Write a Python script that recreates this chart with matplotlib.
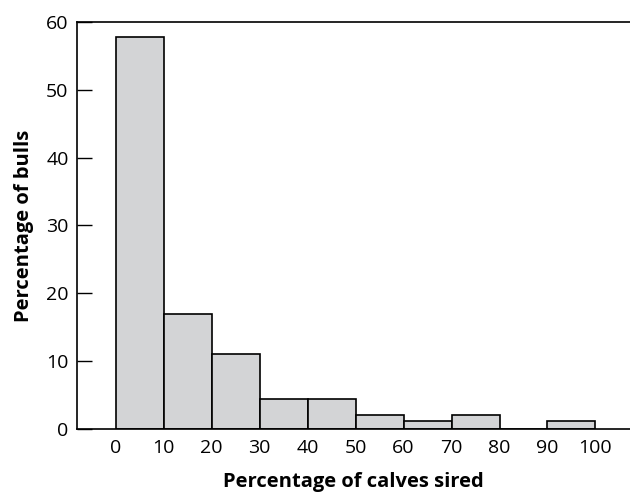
import matplotlib.pyplot as plt

# bin left edges and heights (percentage of bulls)
bin_left = [0, 10, 20, 30, 40, 50, 60, 70, 80, 90]
pct_bulls = [57.8, 17.0, 11.0, 4.4, 4.4, 2.1, 1.2, 2.1, 0, 1.2]
xtick_vals = [0, 10, 20, 30, 40, 50, 60, 70, 80, 90, 100]
ytick_vals = [0, 10, 20, 30, 40, 50, 60]

plt.rcParams['font.family'] = ['Open Sans', 'DejaVu Sans']

fig = plt.figure(figsize=(6.3, 4.94), dpi=100)
ax = fig.add_axes([0.122, 0.1316, 0.878, 0.8239])

ax.bar(bin_left, pct_bulls, width=10, align='edge', color='#d3d4d6',
       edgecolor='black', linewidth=1.2, zorder=2)

ax.set_xlim(-8.1, 107.2)
ax.set_ylim(0, 60)
ax.set_xticks(xtick_vals)
ax.set_yticks(ytick_vals)
ax.tick_params(axis='x', length=0, pad=7, labelsize=14)
ax.tick_params(axis='y', direction='in', length=11, width=1, pad=6, labelsize=14)

ax.spines['right'].set_visible(False)
for s in ['top', 'left', 'bottom']:
    ax.spines[s].set_linewidth(1.2)

ax.set_xlabel('Percentage of calves sired', fontsize=14.5, fontweight='bold', labelpad=11)
ax.set_ylabel('Percentage of bulls', fontsize=14.5, fontweight='bold', labelpad=9)

fig.savefig('out.png', dpi=100)
